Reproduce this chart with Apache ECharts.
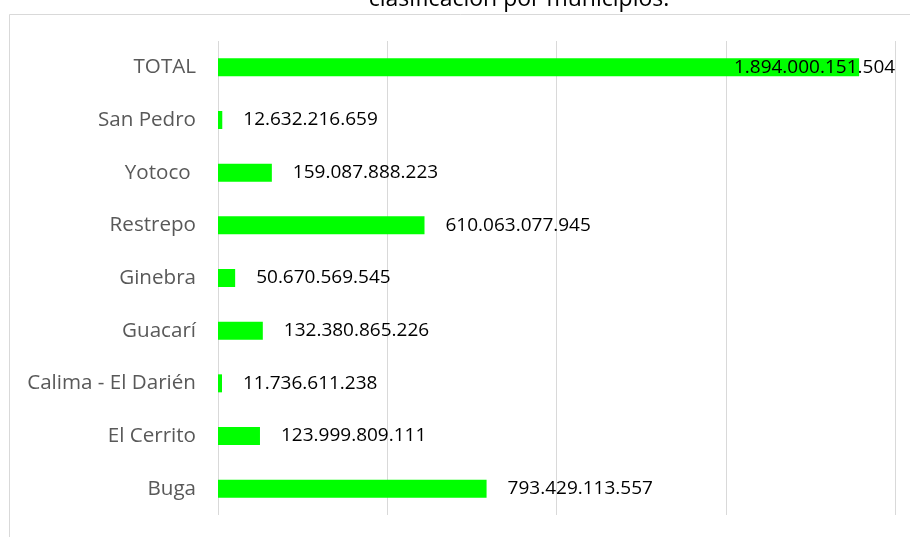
<!DOCTYPE html>
<html>
<head>
<meta charset="utf-8">
<script src="https://cdn.jsdelivr.net/npm/echarts@6/dist/echarts.min.js"></script>
<style>
html,body{margin:0;padding:0;background:#fff;}
#chart{width:910px;height:537px;}
</style>
</head>
<body>
<div id="chart"></div>
<script>
var titleText = 'clasificación por municipios.';
var categories = ['Buga', 'El Cerrito', 'Calima - El Darién', 'Guacarí', 'Ginebra', 'Restrepo', 'Yotoco ', 'San Pedro', 'TOTAL'];
var values = [793429113557, 123999809111, 11736611238, 132380865226, 50670569545, 610063077945, 159087888223, 12632216659, 1894000151504];
var axisMin = 0;
var axisMax = 2000000000000;
var axisInterval = 500000000000;

function fmt(v) {
  return String(v).replace(/\B(?=(\d{3})+(?!\d))/g, '.');
}

var FONT = '"Open Sans", sans-serif';
var seriesData = values.map(function (v, i) {
  var item = { value: v };
  if (categories[i] === 'TOTAL') {
    item.label = { position: 'insideRight', distance: 0, offset: [36, 0] };
  }
  return item;
});

var chart = echarts.init(document.getElementById('chart'), null, { renderer: 'canvas' });
chart.setOption({
  animation: false,
  backgroundColor: '#ffffff',
  title: {
    text: titleText,
    left: 514,
    textAlign: 'center',
    top: -17,
    textStyle: { fontFamily: FONT, fontSize: 23, fontWeight: 'normal', color: '#000000' }
  },
  graphic: [{
    type: 'rect',
    left: 7,
    top: 12,
    silent: true,
    z: -10,
    shape: { width: 1000, height: 1000 },
    style: { fill: 'none', stroke: '#d9d9d9', lineWidth: 1 }
  }],
  grid: { left: 218, right: 15, top: 41, bottom: 22, containLabel: false },
  xAxis: {
    type: 'value',
    min: axisMin,
    max: axisMax,
    interval: axisInterval,
    axisLabel: { show: false },
    axisLine: { show: false },
    axisTick: { show: false },
    splitLine: { show: true, lineStyle: { color: '#d9d9d9', width: 1 } }
  },
  yAxis: {
    type: 'category',
    data: categories,
    axisLine: { show: false },
    axisTick: { show: false },
    splitLine: { show: false },
    axisLabel: { color: '#595959', fontFamily: FONT, fontSize: 20.6, margin: 22 }
  },
  series: [{
    type: 'bar',
    data: seriesData,
    barWidth: 18,
    itemStyle: { color: '#00ff00' },
    label: {
      show: true,
      position: 'right',
      distance: 21,
      color: '#000000',
      fontFamily: FONT,
      fontSize: 19,
      formatter: function (p) { return fmt(p.value); }
    }
  }]
});
</script>
</body>
</html>
